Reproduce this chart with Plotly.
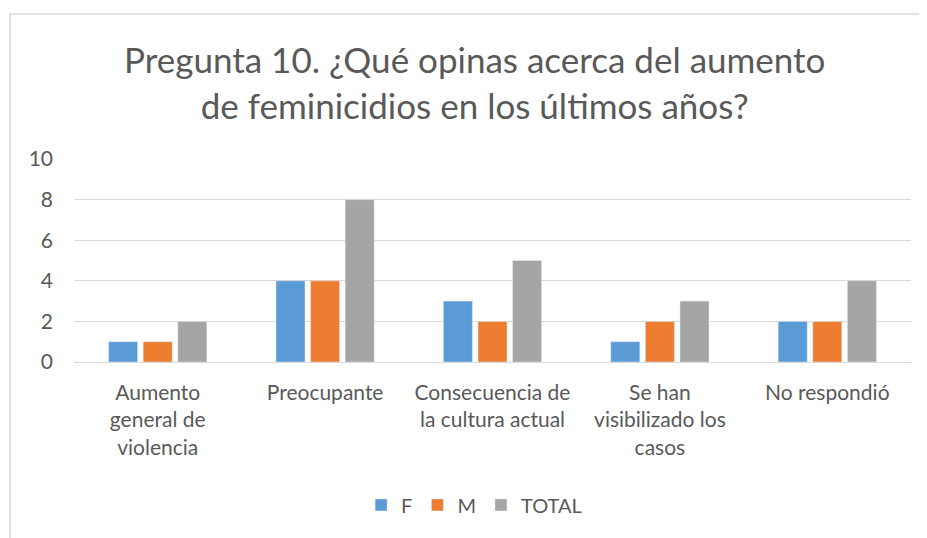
import plotly.graph_objects as go

categories = ["Aumento<br>general de<br>violencia", "Preocupante",
              "Consecuencia de<br>la cultura actual",
              "Se han<br>visibilizado los<br>casos", "No respondió"]
f_vals = [1, 4, 3, 1, 2]
m_vals = [1, 4, 2, 2, 2]
total_vals = [2, 8, 5, 3, 4]
y_ticks = [0, 2, 4, 6, 8, 10]

font_fam = "Lato, 'Open Sans', sans-serif"
grey = "#595959"

fig = go.Figure()
fig.add_bar(x=categories, y=f_vals, name="F", marker_color="#5B9BD5")
fig.add_bar(x=categories, y=m_vals, name="M", marker_color="#ED7D31")
fig.add_bar(x=categories, y=total_vals, name="TOTAL", marker_color="#A5A5A5")

fig.update_layout(
    width=927, height=538,
    margin=dict(l=66, r=24, t=151, b=184),
    paper_bgcolor="white", plot_bgcolor="white",
    barmode="group", bargap=0.38, bargroupgap=0.16,
    font=dict(family=font_fam, color=grey, size=21),
    showlegend=True,
    legend=dict(orientation="h", x=0.478, xanchor="center", y=-0.704, yanchor="middle",
                font=dict(size=20, color=grey), itemwidth=30),
    annotations=[dict(
        text="Pregunta 10. ¿Qué opinas acerca del aumento<br>de feminicidios en los últimos años?",
        xref="paper", yref="paper", x=0.478, y=1.606, xanchor="center", yanchor="top",
        showarrow=False, font=dict(size=35, color=grey, family=font_fam), align="center")],
    shapes=[dict(type="rect", xref="paper", yref="paper",
                 x0=-0.0765, x1=1.1, y0=-1.2, y1=1.714,
                 line=dict(color="#D9D9D9", width=1.5), layer="below")],
)
fig.update_yaxes(range=[0, 10], tickvals=y_ticks, showgrid=True, gridcolor="#D9D9D9",
                 gridwidth=1, zeroline=True, zerolinecolor="#D9D9D9", zerolinewidth=1,
                 showline=False, ticks="", ticklabelstandoff=20, tickfont=dict(size=21))
fig.update_xaxes(showline=False, ticks="", tickfont=dict(size=21), ticklabelstandoff=16)

fig.write_html("out.html")
